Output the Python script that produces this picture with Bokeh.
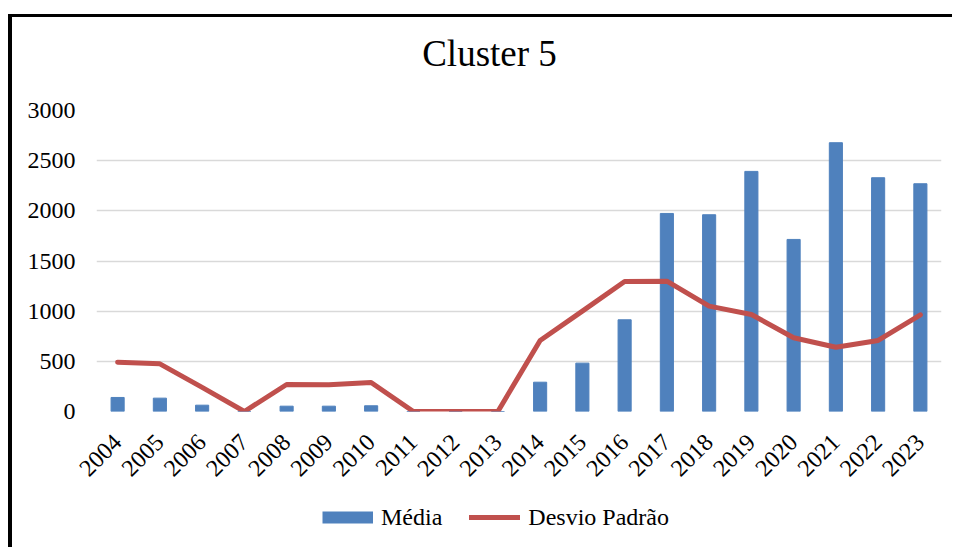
import math
from bokeh.plotting import figure
from bokeh.layouts import column
from bokeh.models import (ColumnDataSource, FactorRange, Range1d, Legend, LegendItem,
                          Label, SingleIntervalTicker)
from bokeh.embed import file_html
from bokeh.resources import INLINE

years = ["2004", "2005", "2006", "2007", "2008", "2009", "2010", "2011", "2012", "2013",
         "2014", "2015", "2016", "2017", "2018", "2019", "2020", "2021", "2022", "2023"]
media = [140, 133, 63, 0, 53, 53, 57, 0, 0, 0,
         292, 482, 914, 1974, 1961, 2393, 1715, 2679, 2330, 2270]
desvio = [492, 475, 240, 0, 269, 266, 289, 0, 0, 0,
          708, 1000, 1296, 1299, 1050, 967, 735, 641, 708, 964]
title_text = "Cluster 5"
series_names = ["Média", "Desvio Padrão"]
y_max = 3000
y_step = 500

FONT = "Liberation Serif"
BLUE = "#4F81BD"
RED = "#C0504D"
W = 940

src = ColumnDataSource(dict(year=years, media=media, desvio=desvio))

# ---- title strip ----
TH = 73
t = figure(width=W, height=TH, output_backend="svg", toolbar_location=None,
           x_range=Range1d(0, 845), y_range=Range1d(0, TH),
           min_border_left=84, min_border_right=11, min_border_top=0, min_border_bottom=0,
           x_axis_location=None, y_axis_location=None)
t.grid.visible = False
t.outline_line_color = None
t.add_layout(Label(x=393, y=37, text=title_text, text_font=FONT, text_font_size="37px",
                   text_align="center", text_baseline="alphabetic", text_color="black"))

# ---- main chart ----
p = figure(x_range=FactorRange(*years), y_range=Range1d(0, y_max),
           width=W, height=411, output_backend="svg", toolbar_location=None,
           min_border_left=84, min_border_right=11, min_border_top=20, min_border_bottom=90)

bars = p.vbar(x="year", top="media", width=0.31, source=src, fill_color=BLUE, line_color=BLUE)
ln = p.line(x="year", y="desvio", source=src, line_color=RED, line_width=5,
            line_join="round", line_cap="round")

p.outline_line_color = None
p.xgrid.visible = False
p.ygrid.grid_line_color = "#D9D9D9"
p.ygrid.grid_line_width = 1.5
p.yaxis.ticker = SingleIntervalTicker(interval=y_step)

for ax in (p.xaxis[0], p.yaxis[0]):
    ax.axis_line_color = None
    ax.major_tick_line_color = None
    ax.minor_tick_line_color = None
    ax.major_tick_out = 0
    ax.major_tick_in = 0
    ax.minor_tick_out = 0
    ax.minor_tick_in = 0
    ax.major_label_text_font = FONT
    ax.major_label_text_font_size = "24px"
    ax.major_label_text_color = "black"
p.yaxis.major_label_standoff = 21
p.xaxis.major_label_standoff = 27
p.xaxis.major_label_orientation = math.pi / 4

# ---- legend strip ----
q = figure(width=W, height=46, output_backend="svg", toolbar_location=None,
           x_range=FactorRange(*years), y_range=Range1d(-2, -1),
           min_border_left=84, min_border_right=11, min_border_top=0, min_border_bottom=0,
           x_axis_location=None, y_axis_location=None)
q.grid.visible = False
q.outline_line_color = None
sw_bar = q.line(x="year", y="media", source=src, line_color=BLUE, line_width=12, line_cap="butt")
sw_line = q.line(x="year", y="desvio", source=src, line_color=RED, line_width=5, line_cap="round")

legend = Legend(items=[LegendItem(label=series_names[0], renderers=[sw_bar]),
                       LegendItem(label=series_names[1], renderers=[sw_line])],
                orientation="horizontal", location=(226, 16),
                glyph_width=51, glyph_height=28, label_height=28, label_standoff=8,
                spacing=27, padding=0, margin=0,
                label_text_font=FONT, label_text_font_size="24px", label_text_color="black",
                border_line_color=None, background_fill_alpha=0)
q.add_layout(legend)

layout = column(t, p, q, spacing=0,
                styles={"margin-top": "14px", "margin-left": "8px",
                        "border-left": "4px solid black", "border-top": "3px solid black"})

open("out.html", "w").write(file_html(layout, INLINE))
